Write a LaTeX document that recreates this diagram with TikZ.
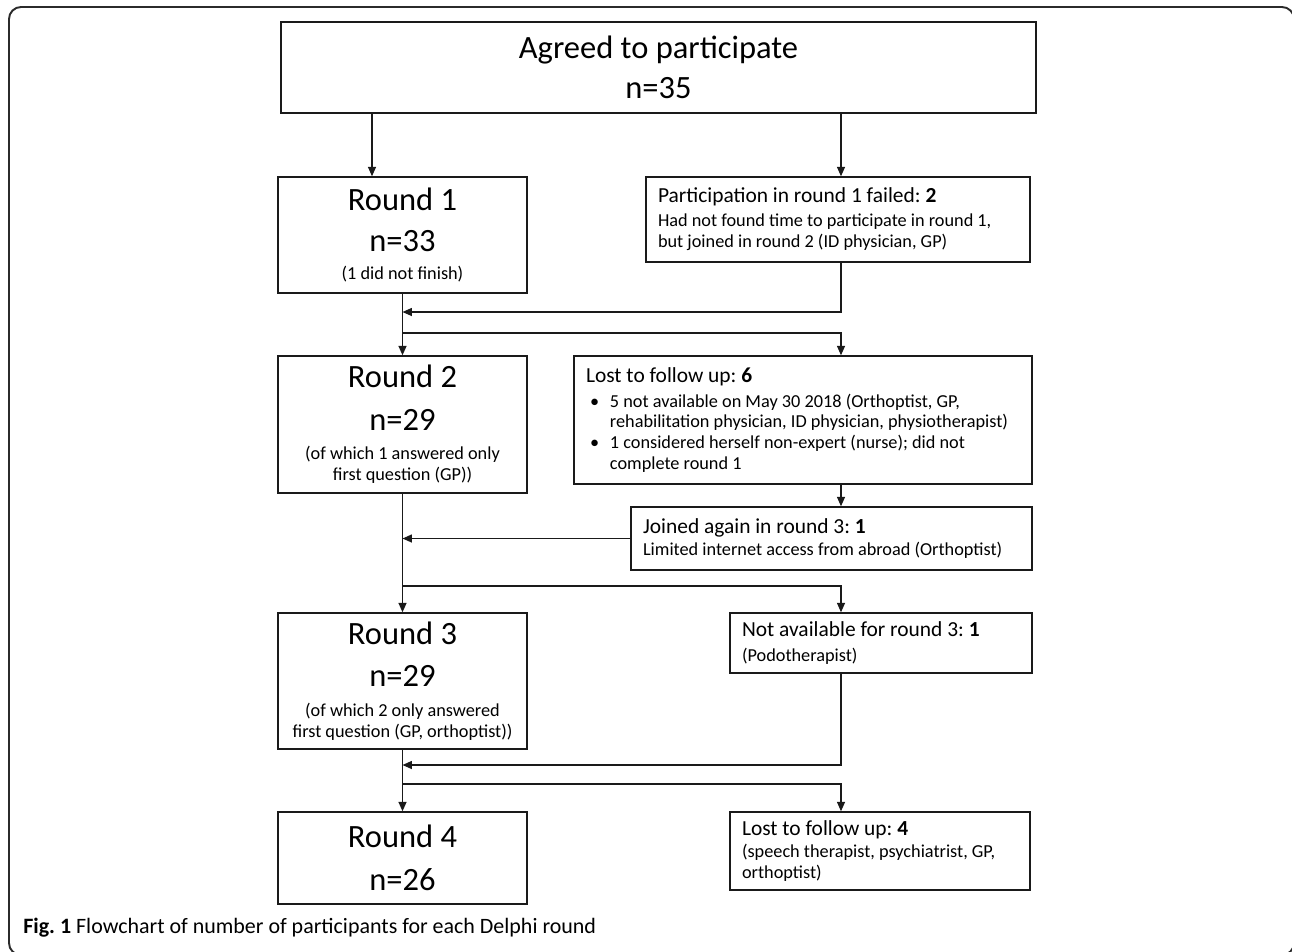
\documentclass[tikz,border=0pt]{standalone}
\usepackage{fontspec}
\setmainfont{Carlito}
\usepackage{tikz}
\usetikzlibrary{arrows.meta}
\definecolor{inkc}{HTML}{1A1A1A}
\definecolor{framec}{HTML}{2B2B2B}
\newcommand\bigfont{\fontsize{18.5}{22.7}\selectfont}
\newcommand\headfont{\fontsize{12.2}{14.5}\selectfont}
\newcommand\bodyfont{\fontsize{10.4}{11.9}\selectfont}
\newcommand\capfont{\fontsize{12.5}{15}\selectfont}
\frenchspacing

\begin{document}
\begin{tikzpicture}[x=0.02cm, y=-0.02cm,
  box/.style={draw=inkc, line width=0.85pt, inner sep=0pt},
  roundbox/.style={box, minimum width=4.98cm, align=center, font=\bigfont},
  sidebox/.style={box, inner xsep=0.24cm, align=flush left, font=\bodyfont},
  arr/.style={draw=inkc, line width=0.7pt, -{Triangle[length=5.4pt,width=4.6pt]}}]
  \useasboundingbox (0,0) rectangle (1292,951);
  \draw[framec, line width=1.1pt, rounded corners=0.24cm] (9,7) rectangle (1294,955);

  % main column
  \node[box, minimum width=15.1cm, minimum height=1.82cm, align=center, font=\bigfont]
    (agreed) at (658.5,67.5) {Agreed to participate\\n=35};
  \node[roundbox, minimum height=2.32cm] (round1) at (402.5,235)
    {Round 1\\[1.1pt]n=33\\[-6.8pt]{\bodyfont (1 did not finish)}};
  \node[roundbox, minimum height=2.74cm] (round2) at (402.5,424.5)
    {Round 2\\[1.5pt]n=29\\[-6pt]{\bodyfont (of which 1 answered only}\\[-10.8pt]{\bodyfont first question (GP))}};
  \node[roundbox, minimum height=2.72cm] (round3) at (402.5,681)
    {Round 3\\[1.5pt]n=29\\[-6pt]{\bodyfont (of which 2 only answered}\\[-10.8pt]{\bodyfont first question (GP, orthoptist))}};
  \node[roundbox, minimum height=1.84cm] (round4) at (402.5,858)
    {Round 4\\[1.5pt]n=26};

  % side column
  \node[sidebox, text width=7.2cm, minimum height=1.7cm] (part) at (838,219.5)
    {{\headfont Participation in round 1 failed: \textbf{2}}\\[1.7pt]
     Had not found time to participate in round 1,\\
     but joined in round 2 (ID physician, GP)};
  \node[sidebox, text width=8.68cm, minimum height=2.56cm] (lost6) at (803,420)
    {{\headfont Lost to follow up: \textbf{6}}\\[2.3pt]
     \makebox[13.6pt][l]{\hspace{2.3pt}\textbullet}5 not available on May 30 2018 (Orthoptist, GP,\\
     \hspace*{13.6pt}rehabilitation physician, ID physician, physiotherapist)\\
     \makebox[13.6pt][l]{\hspace{2.3pt}\textbullet}1 considered herself non-expert (nurse); did not\\
     \hspace*{13.6pt}complete round 1};
  \node[sidebox, text width=7.54cm, minimum height=1.26cm] (joined) at (831.5,538.5)
    {{\headfont Joined again in round 3: \textbf{1}}\\[1.1pt]
     Limited internet access from abroad (Orthoptist)};
  \node[sidebox, text width=5.56cm, minimum height=1.2cm] (notav) at (881,643)
    {{\headfont Not available for round 3: \textbf{1}}\\[2.3pt]
     (Podotherapist)};
  \node[sidebox, text width=5.52cm, minimum height=1.56cm] (lost4) at (880,851)
    {{\headfont Lost to follow up: \textbf{4}}\\[1pt]
     (speech therapist, psychiatrist, GP,\\
     orthoptist)};

  \node[anchor=west, inner sep=0pt, font=\capfont] (caption) at (23,928)
    {\textbf{Fig. 1} Flowchart of number of participants for each Delphi round};

  % junctions on the trunk
  \coordinate (aL) at (372,0);
  \coordinate (rc) at (841,0);
  \coordinate (m1) at (402.5,312);
  \coordinate (s1) at (402.5,333);
  \coordinate (s2) at (402.5,586);
  \coordinate (m3) at (402.5,765);
  \coordinate (s3) at (402.5,784);

  \draw[arr] (agreed.south -| aL) -- (round1.north -| aL);
  \draw[arr] (agreed.south -| rc) -- (part.north -| rc);
  \draw[arr] (round1.south) -- (round2.north);
  \draw[arr] (part.south -| rc) |- (m1);
  \draw[arr] (s1) -| (lost6.north -| rc);
  \draw[arr] (lost6.south -| rc) -- (joined.north -| rc);
  \draw[arr] (joined.west) -- (joined.west -| round2.south);
  \draw[arr] (round2.south) -- (round3.north);
  \draw[arr] (s2) -| (notav.north -| rc);
  \draw[arr] (notav.south -| rc) |- (m3);
  \draw[arr] (s3) -| (lost4.north -| rc);
  \draw[arr] (round3.south) -- (round4.north);
\end{tikzpicture}
\end{document}
